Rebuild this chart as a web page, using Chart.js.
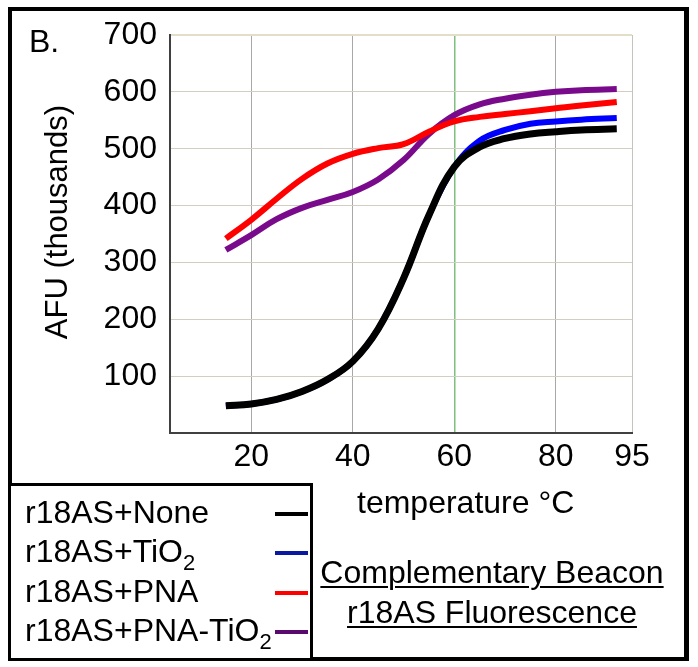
<!DOCTYPE html>
<html>
<head>
<meta charset="utf-8">
<script src="https://cdn.jsdelivr.net/npm/chart.js@4.4.1/dist/chart.umd.min.js"></script>
<style>
  body { margin: 0; background: #fff; font-family: "Liberation Sans", Arial, sans-serif; }
  #wrap { position: relative; width: 698px; height: 667px; overflow: hidden; background: #fff; }
  #chart { position: absolute; left: 0; top: 0; }
  .txt { position: absolute; font-size: 32px; line-height: 32px; white-space: nowrap; color: #000; }
  .txt sub { font-size: 22px; line-height: 0; vertical-align: -8px; }
  #frame { position: absolute; left: 8px; top: 7px; width: 672px; height: 646px; border: 4px solid #000; border-right-width: 5px; }
  #legend { position: absolute; left: 8px; top: 483px; width: 299px; height: 172px; border: 3px solid #000; background: #fff; }
  .swatch { position: absolute; height: 4px; width: 33px; left: 275px; }
  .caption { text-decoration: underline; text-decoration-thickness: 2px; text-underline-offset: 3px; text-align: center; width: 400px; left: 292px; }
</style>
</head>
<body>
<div id="wrap">
  <canvas id="chart" width="698" height="667"></canvas>
  <div id="frame"></div>
  <div class="txt" style="left:29px;top:25px;">B.</div>
  <div class="txt" style="left:-93px;top:206px;width:300px;text-align:center;font-size:31px;transform:rotate(-90deg);">AFU (thousands)</div>
  <div class="txt" style="left:357px;top:486px;">temperature °C</div>
  <div id="legend"></div>
  <div class="txt caption" style="top:556px;">Complementary Beacon</div>
  <div class="txt caption" style="top:596px;">r18AS Fluorescence</div>
</div>
<script>
// values (AFU in thousands)
const temps = [15, 20, 25, 30, 35, 40, 45, 50, 55, 60, 65, 70, 75, 80, 85, 92];
const noneVals   = [48, 51, 59, 73, 94, 126, 183, 272, 383, 468, 503, 518, 526, 530, 533, 535];
const tio2Vals   = [48, 51, 59, 73, 94, 126, 183, 272, 383, 468, 514, 533, 544, 548, 551, 554];
const pnaVals    = [342, 375, 412, 447, 474, 491, 501, 508, 530, 548, 556, 561, 566, 571, 576, 582];
const pnaTio2Vals = [322, 348, 376, 396, 410, 424, 446, 480, 526, 559, 578, 588, 595, 600, 603, 605];

const seriesNames = ['r18AS+None', 'r18AS+TiO2', 'r18AS+PNA', 'r18AS+PNA-TiO2'];
const lineColors = ['#000000', '#0000ff', '#ff0000', '#7a0a8c'];
const swatchColors = ['#000000', '#0a1aa0', '#ff0000', '#5a0a6e'];
const xTickValues = [20, 40, 60, 80, 95];
const yTickValues = [0, 100, 200, 300, 400, 500, 600, 700];

const allVals = [noneVals, tio2Vals, pnaVals, pnaTio2Vals];

Chart.defaults.font.family = '"Liberation Sans", Arial, sans-serif';
Chart.defaults.color = '#000';

const datasets = allVals.map((vals, i) => ({
  label: seriesNames[i],
  data: temps.map((t, j) => ({ x: t, y: vals[j] })),
  borderColor: lineColors[i],
  borderWidth: i === 0 ? 7 : 6,
  pointRadius: 0,
  tension: 0.4,
  fill: false
}));

const ctx = document.getElementById('chart').getContext('2d');
new Chart(ctx, {
  type: 'line',
  data: { datasets: datasets },
  options: {
    responsive: false,
    animation: false,
    devicePixelRatio: 1,
    layout: { padding: { left: 0, top: 35, right: 66, bottom: 174 } },
    plugins: { legend: { display: false }, tooltip: { enabled: false } },
    scales: {
      x: {
        type: 'linear',
        min: 4,
        max: 95,
        afterBuildTicks: function(scale) {
          scale.ticks = xTickValues.map(v => ({ value: v }));
        },
        afterFit: function(scale) { scale.height = 60; },
        ticks: { font: { size: 32 }, padding: 5, autoSkip: false, maxRotation: 0 },
        grid: {
          drawTicks: false,
          color: function(c) {
            if (c.tick && c.tick.value === 60) return '#7fc07f';
            if (c.tick && c.tick.value === 95) return '#c4c4bc';
            return '#a8a8a8';
          },
          lineWidth: function(c) { return (c.tick && c.tick.value === 60) ? 1.5 : 1; }
        },
        border: { color: '#404040', width: 2 }
      },
      y: {
        min: 0,
        max: 700,
        afterBuildTicks: function(scale) {
          scale.ticks = yTickValues.map(v => ({ value: v }));
        },
        afterFit: function(scale) { scale.width = 170; },
        ticks: {
          font: { size: 32 },
          padding: 13,
          autoSkip: false,
          callback: function(v) { return v === 0 ? '' : v; }
        },
        grid: {
          drawTicks: false,
          color: function(c) { return (c.tick && c.tick.value === 700) ? '#e2dec8' : '#d2cec2'; },
          lineWidth: function(c) { return (c.tick && c.tick.value === 700) ? 2 : 1; }
        },
        border: { color: '#404040', width: 2 }
      }
    }
  }
});

// legend box, built from the series names and colours
const wrap = document.getElementById('wrap');
seriesNames.forEach((name, i) => {
  const label = document.createElement('div');
  label.className = 'txt';
  label.style.left = '25px';
  label.style.top = (496 + i * 39.3) + 'px';
  label.innerHTML = name.replace('TiO2', 'TiO<sub>2</sub>');
  wrap.appendChild(label);
  const sw = document.createElement('div');
  sw.className = 'swatch';
  sw.style.top = (512 + i * 39.3) + 'px';
  sw.style.background = swatchColors[i];
  wrap.appendChild(sw);
});
</script>
</body>
</html>
